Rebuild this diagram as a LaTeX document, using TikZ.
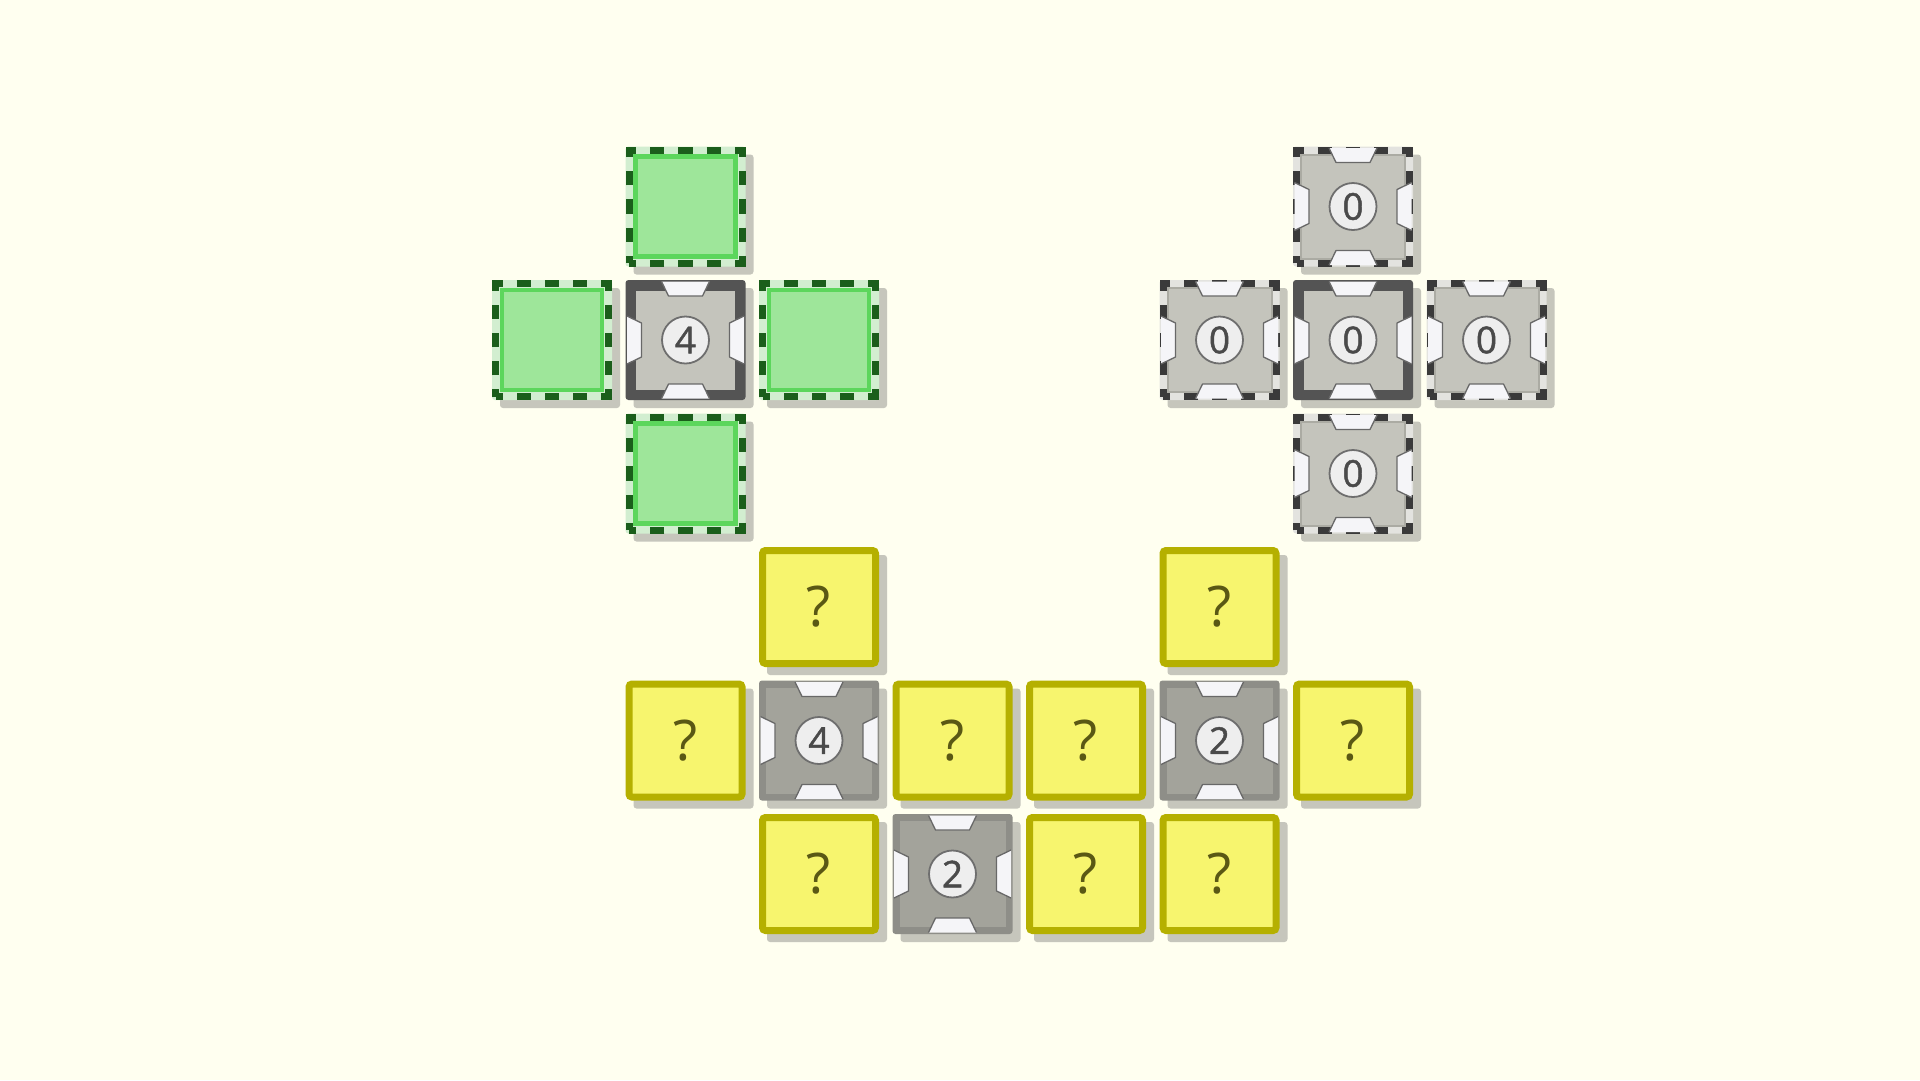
\documentclass[tikz,border=0pt]{standalone}
\usepackage{fontspec}
\setmainfont{Open Sans}
\newfontfamily\digitfont{Open Sans}[FakeBold=1.2]
\usetikzlibrary{calc}
\definecolor{bgc}{HTML}{FFFFF0}
\definecolor{shadowc}{HTML}{C6C6BC}
\definecolor{darkframe}{HTML}{545454}
\definecolor{lightin}{HTML}{C4C4BC}
\definecolor{medframe}{HTML}{8E8E88}
\definecolor{medin}{HTML}{A3A39B}
\definecolor{notchfillc}{HTML}{F5F5F8}
\definecolor{notchlinec}{HTML}{686868}
\definecolor{circfillc}{HTML}{EEEEEE}
\definecolor{circlinec}{HTML}{6E6E6E}
\definecolor{digitc}{HTML}{4A4A4A}
\definecolor{gdash}{HTML}{1B5E1B}
\definecolor{gband}{HTML}{D2EED0}
\definecolor{gline}{HTML}{5CD65C}
\definecolor{gfill}{HTML}{9EE69A}
\definecolor{sdash}{HTML}{3A3A3A}
\definecolor{sband}{HTML}{E3E3DF}
\definecolor{sinline}{HTML}{ABABA3}
\definecolor{yborder}{HTML}{B5B000}
\definecolor{yfill}{HTML}{F7F56E}
\definecolor{qc}{HTML}{5A5814}
\tikzset{
  tilebase/.style={shape=rectangle, inner sep=0pt, outer sep=0pt, rounded corners=3pt},
  ytile/.style={tilebase, draw=yborder, line width=7pt, fill=yfill, minimum size=113pt,
    text=qc, font=\fontsize{56}{56}\selectfont},
  darktile/.style={tilebase, fill=darkframe, minimum size=120pt},
  medtile/.style={tilebase, fill=medframe, minimum size=120pt},
  greentile/.style={tilebase, fill=gband, minimum size=120pt},
  stile/.style={tilebase, fill=sband, minimum size=120pt},
  dashband/.style={line width=7pt, dash pattern=on 14.125pt off 14.125pt, dash phase=7.06pt},
  notchfill/.style={fill=notchfillc},
  notchline/.style={draw=notchlinec, line width=1.3pt, line join=round},
  digit/.style={inner sep=0pt, text=digitc, font=\digitfont\fontsize{37}{37}\selectfont},
}
\newcommand\shadowat[2]{\fill[shadowc, rounded corners=3pt] ({552+133.5*#1-52},{340+133.5*#2-52}) rectangle ++(120,120);}
\newcommand\decor[2]{%
  \begin{scope}[shift={(#1.center)}]
    \foreach \a in {0,90,180,270}{%
      \fill[notchfill, rotate=\a] (-24pt,58.5pt) -- (24pt,58.5pt) -- (17pt,44pt) -- (-17pt,44pt) -- cycle;
      \draw[notchline, rotate=\a] (-24pt,58.5pt) -- (-17pt,44pt) -- (17pt,44pt) -- (24pt,58.5pt);
    }
    \filldraw[fill=circfillc, draw=circlinec, line width=1.8pt] (0pt,0pt) circle[radius=23.5pt];
  \end{scope}
  \node[digit] (#1-d) at (#1.center) {#2};}
\newcommand\ytileat[3]{\shadowat{#2}{#3}\node[ytile] (#1) at ({552+133.5*#2},{340+133.5*#3}) {?};}
\newcommand\darktileat[4]{\shadowat{#2}{#3}\node[darktile] (#1) at ({552+133.5*#2},{340+133.5*#3}) {};
  \fill[lightin] ($(#1.center)+(-49.5pt,-49.5pt)$) rectangle ($(#1.center)+(49.5pt,49.5pt)$);
  \decor{#1}{#4}}
\newcommand\medtileat[4]{\shadowat{#2}{#3}\node[medtile] (#1) at ({552+133.5*#2},{340+133.5*#3}) {};
  \fill[medin] ($(#1.center)+(-53pt,-53pt)$) rectangle ($(#1.center)+(53pt,53pt)$);
  \decor{#1}{#4}}
\newcommand\greentileat[3]{\shadowat{#2}{#3}\node[greentile] (#1) at ({552+133.5*#2},{340+133.5*#3}) {};
  \draw[gdash, dashband] ($(#1.center)+(-56.5pt,-56.5pt)$) rectangle ($(#1.center)+(56.5pt,56.5pt)$);
  \filldraw[fill=gfill, draw=gline, line width=4.5pt] ($(#1.center)+(-50pt,-50pt)$) rectangle ($(#1.center)+(50pt,50pt)$);}
\newcommand\stileat[4]{\shadowat{#2}{#3}\node[stile] (#1) at ({552+133.5*#2},{340+133.5*#3}) {};
  \draw[sdash, dashband] ($(#1.center)+(-56.5pt,-56.5pt)$) rectangle ($(#1.center)+(56.5pt,56.5pt)$);
  \filldraw[fill=lightin, draw=sinline, line width=2pt] ($(#1.center)+(-52pt,-52pt)$) rectangle ($(#1.center)+(52pt,52pt)$);
  \decor{#1}{#4}}
\begin{document}
\begin{tikzpicture}[x=1pt,y=-1pt]
\fill[bgc] (0,0) rectangle (1920,1080);
\useasboundingbox (0,0) rectangle (1920,1080);
% left group
\greentileat{g1}{1}{-1}
\greentileat{g2}{0}{0}
\greentileat{g3}{2}{0}
\greentileat{g4}{1}{1}
\darktileat{d1}{1}{0}{4}
% right group
\stileat{s1}{6}{-1}{0}
\stileat{s2}{5}{0}{0}
\stileat{s3}{7}{0}{0}
\stileat{s4}{6}{1}{0}
\darktileat{d2}{6}{0}{0}
% bottom group
\ytileat{y1}{2}{2}
\ytileat{y2}{5}{2}
\ytileat{y3}{1}{3}
\medtileat{m1}{2}{3}{4}
\ytileat{y4}{3}{3}
\ytileat{y5}{4}{3}
\medtileat{m2}{5}{3}{2}
\ytileat{y6}{6}{3}
\ytileat{y7}{2}{4}
\medtileat{m3}{3}{4}{2}
\ytileat{y8}{4}{4}
\ytileat{y9}{5}{4}
\end{tikzpicture}
\end{document}
